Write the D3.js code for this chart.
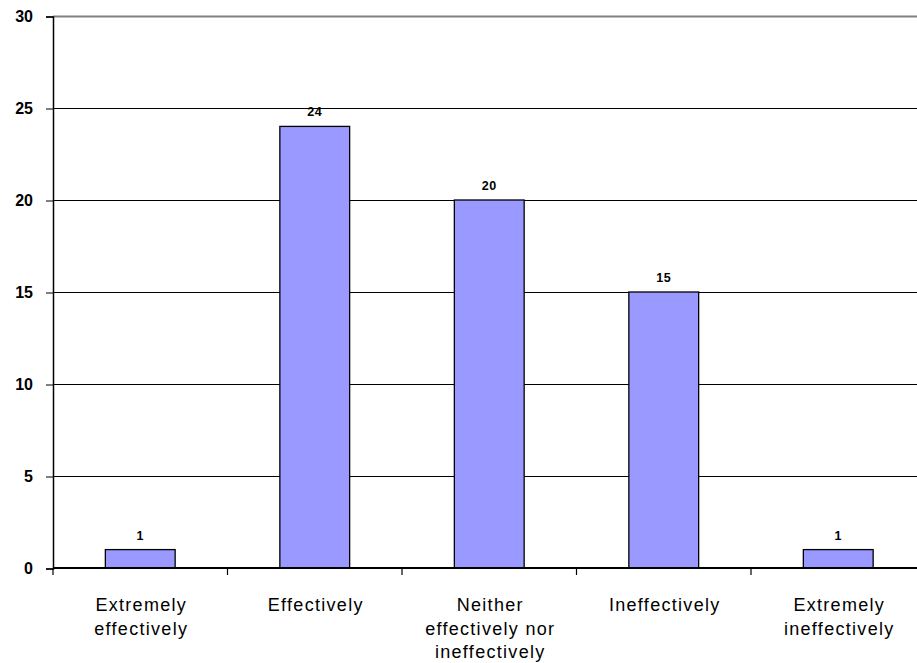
<!DOCTYPE html>
<html>
<head>
<meta charset="utf-8">
<script src="https://cdn.jsdelivr.net/npm/d3@7"></script>
<style>
  html, body { margin: 0; padding: 0; background: #fff; }
  svg { display: block; }
</style>
</head>
<body>
<svg id="chart" width="917" height="663"></svg>
<script>
// Survey responses: how effectively was it handled
const categories = [
  ["Extremely", "effectively"],
  ["Effectively"],
  ["Neither", "effectively nor", "ineffectively"],
  ["Ineffectively"],
  ["Extremely", "ineffectively"]
];
const values = [1, 24, 20, 15, 1];
const yTicks = [0, 5, 10, 15, 20, 25, 30];

const svg = d3.select("#chart");
const plotLeft = 53, plotTop = 16, plotBottom = 568, band = 174.5;
const keys = categories.map((c, i) => i);

const x = d3.scaleBand().domain(keys).range([plotLeft, plotLeft + band * keys.length])
  .paddingInner(0.6).paddingOuter(0.3);
const xb = d3.scaleBand().domain(keys).range([plotLeft, plotLeft + band * keys.length]);
const y = d3.scaleLinear().domain([0, 30]).range([plotBottom, plotTop]);

// horizontal gridlines
svg.append("g").selectAll("line").data(yTicks.filter(t => t > 0)).join("line")
  .attr("x1", plotLeft).attr("x2", 917)
  .attr("y1", d => y(d) + 0.5).attr("y2", d => y(d) + 0.5)
  .attr("stroke", d => d === 30 ? "#808080" : "#000")
  .attr("stroke-width", d => d === 30 ? 2 : 1);

// y axis
const yAxis = d3.axisLeft(y).tickValues(yTicks).tickSize(7).tickPadding(13);
const gy = svg.append("g").attr("transform", `translate(${plotLeft},0.5)`).call(yAxis);
gy.select(".domain").attr("stroke", "#000").attr("stroke-width", 1.5);
gy.selectAll(".tick line").attr("stroke", "#000").attr("stroke-width", 1);
gy.selectAll(".tick text")
  .attr("font-family", "Arial, 'Liberation Sans', sans-serif")
  .attr("font-weight", "bold").attr("font-size", 16).attr("fill", "#000");

// bars
svg.append("g").selectAll("rect").data(values).join("rect")
  .attr("x", (d, i) => x(i)).attr("width", x.bandwidth())
  .attr("y", d => y(d)).attr("height", d => y(0) - y(d))
  .attr("fill", "#9999ff").attr("stroke", "#000").attr("stroke-width", 1.3);

// value labels
svg.append("g").selectAll("text").data(values).join("text")
  .attr("x", (d, i) => x(i) + x.bandwidth() / 2)
  .attr("y", d => y(d) - 10)
  .attr("text-anchor", "middle")
  .attr("font-family", "Arial, 'Liberation Sans', sans-serif")
  .attr("font-weight", "bold").attr("font-size", 12.5).attr("letter-spacing", 0.5)
  .text(d => d);

// x axis line and category boundary ticks
svg.append("line").attr("x1", plotLeft).attr("x2", 917)
  .attr("y1", plotBottom).attr("y2", plotBottom)
  .attr("stroke", "#000").attr("stroke-width", 2);
svg.append("g").selectAll("line").data(keys.map(k => xb(k))).join("line")
  .attr("x1", d => d).attr("x2", d => d)
  .attr("y1", plotBottom).attr("y2", plotBottom + 7)
  .attr("stroke", "#000").attr("stroke-width", 1.2);

// category labels
const lab = svg.append("g").selectAll("text").data(categories).join("text")
  .attr("text-anchor", "middle")
  .attr("font-family", "Arial, 'Liberation Sans', sans-serif")
  .attr("font-size", 18).attr("letter-spacing", 1.3).attr("fill", "#000");
lab.each(function(lines, i) {
  d3.select(this).selectAll("tspan").data(lines).join("tspan")
    .attr("x", x(i) + x.bandwidth() / 2 + 1)
    .attr("y", (d, j) => 611 + j * 23.5)
    .text(d => d);
});
</script>
</body>
</html>
